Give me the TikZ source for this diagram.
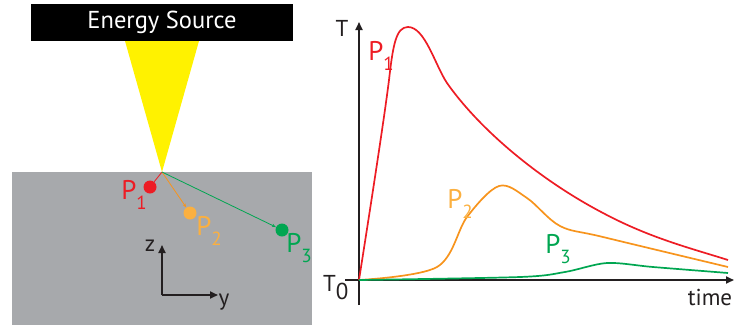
\documentclass[tikz,border=0pt]{standalone}
\usepackage{fontspec}
\setmainfont{PT Sans}
\usetikzlibrary{arrows.meta}
\definecolor{pred}{HTML}{ED1C24}
\definecolor{porange}{HTML}{F7941D}
\definecolor{plight}{HTML}{FBB040}
\definecolor{pgreen}{HTML}{00A651}
\definecolor{pyellow}{HTML}{FFF200}
\definecolor{slab}{HTML}{A7A9AC}
\definecolor{ink}{HTML}{231F20}
\newcommand{\Plab}[1]{P\raisebox{-0.4em}{\fontsize{19}{19}\selectfont #1}}
\tikzset{
  lab/.style={font=\fontsize{27}{27}\selectfont, inner sep=0pt},
  axlab/.style={font=\fontsize{23}{23}\selectfont, text=ink, inner sep=0pt},
  dotp/.style={circle, inner sep=0pt, minimum size=13pt},
  ray/.style={line width=0.8pt},
  curve/.style={line width=1.7pt, line join=round},
  axis/.style={line width=1.8pt, draw=ink, -{Triangle[length=8pt,width=7pt]}}
}
\begin{document}
\begin{tikzpicture}[x=1pt,y=-1pt]
\useasboundingbox (0,0) rectangle (737,325);
% slab
\fill[slab] (12,172) rectangle (312,325);
% source box
\node[fill=black, minimum width=262pt, minimum height=37pt, inner sep=0pt,
      text=white, font=\fontsize{24.5}{24.5}\selectfont] (src) at (162,22.5) {Energy Source};
% beam
\coordinate (apex) at (162,172);
\fill[pyellow] (125,41) -- (199,41) -- (apex) -- cycle;
% points
\node[dotp, fill=pred] (p1) at (150,187) {};
\node[dotp, fill=plight] (p2) at (190,213) {};
\node[dotp, fill=pgreen] (p3) at (282,230) {};
\draw[ray, pred] (apex) -- (p1);
\draw[ray, porange, -{Stealth[length=4pt,width=3pt]}] (apex) -- (p2);
\draw[ray, pgreen, -{Stealth[length=4pt,width=3pt]}] (apex) -- (p3);
\node[lab, text=pred] (l1) at (134,195) {\Plab{1}};
\node[lab, text=plight] (l2) at (209,231) {\Plab{2}};
\node[lab, text=pgreen] (l3) at (299,248) {\Plab{3}};
% coordinate axes
\coordinate (o) at (162,295);
\coordinate (zt) at (162,245);
\coordinate (yt) at (218,295);
\draw[axis] (o) -- (zt);
\draw[axis] (o) -- (yt);
\node[axlab] (zl) at (150,246) {z};
\node[axlab] (yl) at (224,302) {y};
% plot axes
\coordinate (O) at (359,280);
\coordinate (Tb) at (359,305);
\coordinate (Tt) at (359,22);
\coordinate (tl) at (345,280);
\coordinate (tr) at (734,280);
\draw[axis] (Tb) -- (Tt);
\draw[axis] (tl) -- (tr);
\node[axlab] (Tlab) at (342,28) {T};
\node[axlab, anchor=west] (T0) at (323,288) {T\raisebox{-0.35em}{0}};
\node[axlab] (time) at (710,297) {time};
% curves
\draw[curve, pred] (O) .. controls (370,210) and (384,120) .. (389,80)
  .. controls (393,45) and (396,27) .. (408,27)
  .. controls (425,27) and (435,65) .. (447,83)
  .. controls (480,130) and (540,180) .. (603,213)
  .. controls (650,238) and (690,248) .. (728,260);
\draw[curve, porange] plot[smooth, tension=0.55] coordinates
  {(359,280) (437,267) (467,217) (499,186) (527,198) (560,226) (603,237) (728,267)};
\draw[curve, pgreen] plot[smooth, tension=0.5] coordinates
  {(359,280) (520,277) (565,272) (607,263) (653,267) (728,273)};
\node[lab, text=pred] (c1) at (381,56) {\Plab{1}};
\node[lab, text=plight] (c2) at (460,204) {\Plab{2}};
\node[lab, text=pgreen] (c3) at (558,249) {\Plab{3}};
\end{tikzpicture}
\end{document}
